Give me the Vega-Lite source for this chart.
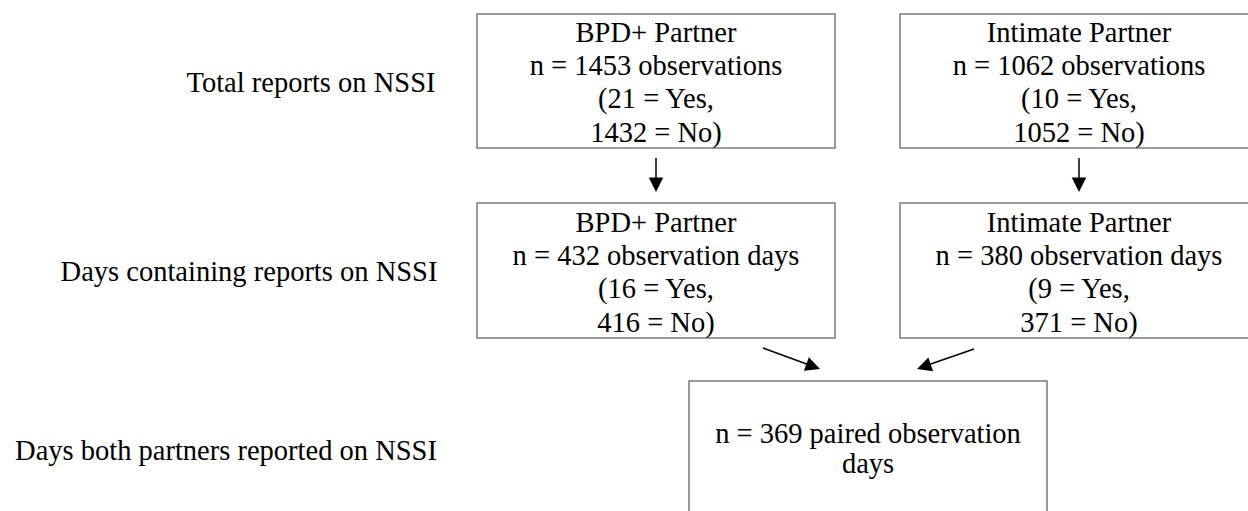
{
  "$schema": "https://vega.github.io/schema/vega-lite/v6.json",
  "width": 1248,
  "height": 511,
  "autosize": {"type": "fit", "contains": "padding"},
  "padding": 0,
  "background": "white",
  "config": {"view": {"stroke": null}, "font": "Liberation Serif", "text": {"font": "Liberation Serif"}},
  "datasets": {
    "boxes": [
      {"box": "BPD+ total", "x": 477, "x2": 835, "y": 14, "y2": 148},
      {"box": "IP total", "x": 900, "x2": 1258, "y": 14, "y2": 148},
      {"box": "BPD+ days", "x": 477, "x2": 835, "y": 203, "y2": 338},
      {"box": "IP days", "x": 900, "x2": 1258, "y": 203, "y2": 338},
      {"box": "Paired", "x": 689, "x2": 1047, "y": 381, "y2": 530}
    ],
    "lines": [
      {"x": 656, "y": 42, "label": "BPD+ Partner"},
      {"x": 656, "y": 75, "label": "n = 1453 observations"},
      {"x": 656, "y": 108, "label": "(21 = Yes,"},
      {"x": 656, "y": 142, "label": "1432 = No)"},
      {"x": 1079, "y": 42, "label": "Intimate Partner"},
      {"x": 1079, "y": 75, "label": "n = 1062 observations"},
      {"x": 1079, "y": 108, "label": "(10 = Yes,"},
      {"x": 1079, "y": 142, "label": "1052 = No)"},
      {"x": 656, "y": 232, "label": "BPD+ Partner"},
      {"x": 656, "y": 265, "label": "n = 432 observation days"},
      {"x": 656, "y": 298, "label": "(16 = Yes,"},
      {"x": 656, "y": 332, "label": "416 = No)"},
      {"x": 1079, "y": 232, "label": "Intimate Partner"},
      {"x": 1079, "y": 265, "label": "n = 380 observation days"},
      {"x": 1079, "y": 298, "label": "(9 = Yes,"},
      {"x": 1079, "y": 332, "label": "371 = No)"},
      {"x": 868, "y": 443, "label": "n = 369 paired observation"},
      {"x": 868, "y": 473, "label": "days"},
      {"x": 311, "y": 92, "label": "Total reports on NSSI"},
      {"x": 249, "y": 281, "label": "Days containing reports on NSSI"},
      {"x": 226, "y": 460, "label": "Days both partners reported on NSSI"}
    ],
    "arrows": [
      {"arrow": "a1", "x": 656, "y": 158, "x2": 656, "y2": 182, "tx": 656, "ty": 192, "angle": 0},
      {"arrow": "a2", "x": 1079, "y": 158, "x2": 1079, "y2": 182, "tx": 1079, "ty": 192, "angle": 0},
      {"arrow": "a3", "x": 763, "y": 348, "x2": 812, "y2": 366, "tx": 820, "ty": 369, "angle": 290},
      {"arrow": "a4", "x": 974, "y": 349, "x2": 925, "y2": 366, "tx": 917, "ty": 369, "angle": 71}
    ]
  },
  "layer": [
    {
      "data": {"name": "boxes"},
      "mark": {"type": "rect", "fill": "white", "stroke": "#7a7a7a", "strokeWidth": 1.5, "clip": true},
      "encoding": {
        "x": {"field": "x", "type": "quantitative", "scale": {"domain": [0, 1248], "nice": false, "zero": false}, "axis": null},
        "x2": {"field": "x2"},
        "y": {"field": "y", "type": "quantitative", "scale": {"domain": [0, 511], "nice": false, "zero": false, "reverse": true}, "axis": null},
        "y2": {"field": "y2"}
      }
    },
    {
      "data": {"name": "arrows"},
      "mark": {"type": "rule", "color": "black", "strokeWidth": 1.5},
      "encoding": {
        "x": {"field": "x", "type": "quantitative"},
        "x2": {"field": "x2"},
        "y": {"field": "y", "type": "quantitative"},
        "y2": {"field": "y2"}
      }
    },
    {
      "data": {"name": "arrows"},
      "mark": {"type": "point", "shape": "M0,0L-1,-2L1,-2Z", "filled": true, "color": "black", "opacity": 1, "size": 210, "strokeWidth": 0},
      "encoding": {
        "x": {"field": "tx", "type": "quantitative"},
        "y": {"field": "ty", "type": "quantitative"},
        "angle": {"field": "angle", "type": "quantitative", "scale": null}
      }
    },
    {
      "data": {"name": "lines"},
      "mark": {"type": "text", "font": "Liberation Serif", "fontSize": 28.5, "color": "black", "align": "center", "baseline": "alphabetic"},
      "encoding": {
        "x": {"field": "x", "type": "quantitative"},
        "y": {"field": "y", "type": "quantitative"},
        "text": {"field": "label"}
      }
    }
  ]
}
